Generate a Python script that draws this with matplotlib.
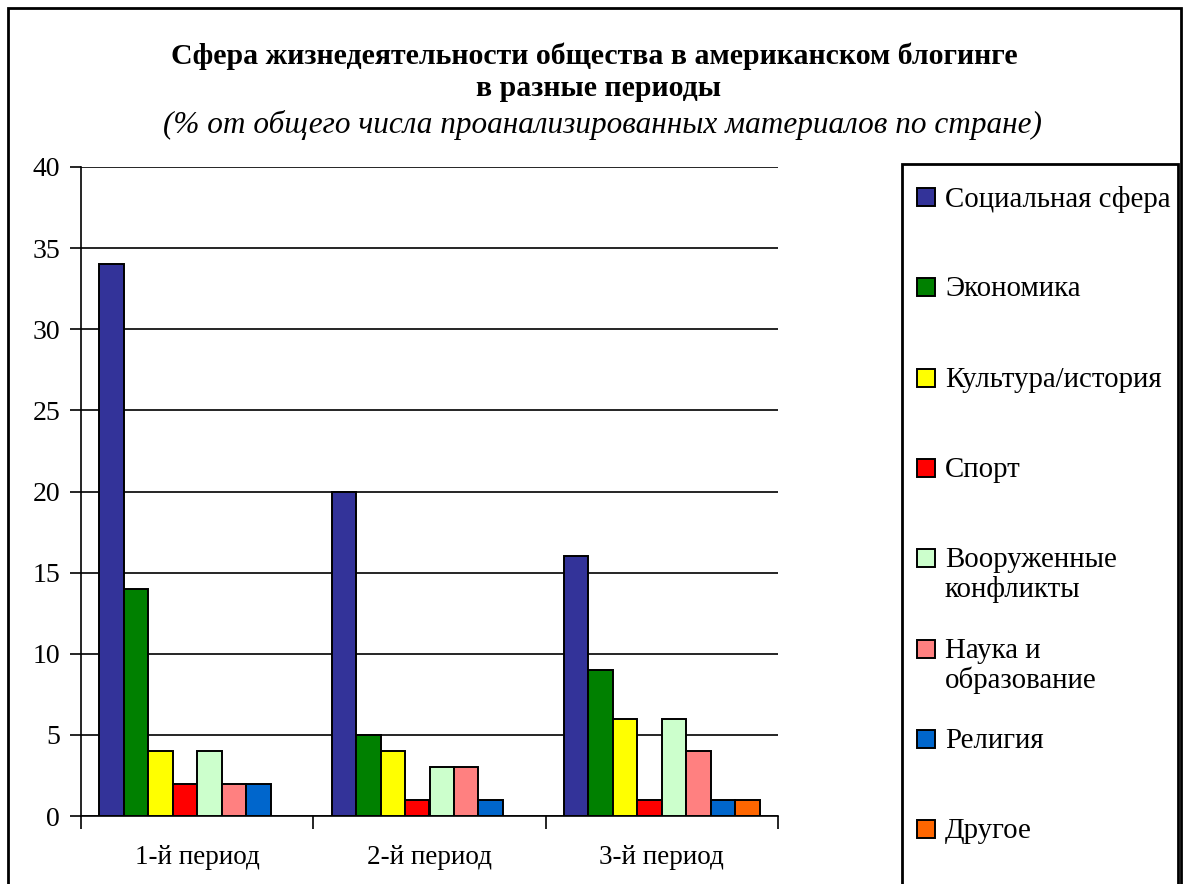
import numpy as np
import matplotlib
matplotlib.use('Agg')
import matplotlib.pyplot as plt
from matplotlib.patches import Rectangle

# data
periods = ['1-й период', '2-й период', '3-й период']
series = ['Социальная сфера', 'Экономика', 'Культура/история', 'Спорт',
          'Вооруженные\nконфликты', 'Наука и\nобразование', 'Религия', 'Другое']
values = [
    [34, 20, 16],
    [14, 5, 9],
    [4, 4, 6],
    [2, 1, 1],
    [4, 3, 6],
    [2, 3, 4],
    [2, 1, 1],
    [0, 0, 1],
]
colors = ['#333399', '#008000', '#FFFF00', '#FF0000',
          '#CCFFCC', '#FF8080', '#0066CC', '#FF6600']
yticks = [0, 5, 10, 15, 20, 25, 30, 35, 40]

plt.rcParams['font.family'] = ['Liberation Serif', 'DejaVu Serif']

W, H = 1185, 884
fig = plt.figure(figsize=(W / 100, H / 100), dpi=100)

def fx(px): return px / W
def fy(py): return 1 - py / H

# outer frame
fig.patches.append(Rectangle((fx(8), fy(900)), fx(1181) - fx(8), fy(8) - fy(900),
                             transform=fig.transFigure, fill=False, ec='black', lw=2))

ax = fig.add_axes([fx(81), fy(816), fx(778) - fx(81), fy(167) - fy(816)])
n = len(series)
w = 1 / (n + 1.5)
centers = np.arange(len(periods)) + 0.5
for i, (vals, c) in enumerate(zip(values, colors)):
    v = np.array(vals, dtype=float)
    v[v == 0] = np.nan  # Excel leaves empty slot for zero
    ax.bar(centers + (i - (n - 1) / 2) * w, v, width=w, color=c,
           edgecolor='black', linewidth=1.4, zorder=3)

ax.set_xlim(0, len(periods))
ax.set_ylim(0, 40)
ax.set_yticks(yticks)
ax.set_yticklabels([str(t) for t in yticks], fontsize=20)
ax.yaxis.grid(True, color='black', linewidth=1.2, zorder=0)
ax.set_xticks(np.arange(len(periods) + 1))
ax.set_xticklabels([])
ax.set_xticks(centers, minor=True)
ax.set_xticklabels(periods, minor=True, fontsize=19.5)
ax.tick_params(axis='x', which='minor', length=0, pad=21)
ax.tick_params(axis='x', which='major', length=9, direction='out', width=1.2)
ax.tick_params(axis='y', length=8, direction='out', width=1.2, pad=7)
for s in ['top', 'right']:
    ax.spines[s].set_visible(False)
for s in ['left', 'bottom']:
    ax.spines[s].set_linewidth(1.2)

# titles
fig.text(fx(594), fy(56), 'Сфера жизнедеятельности общества в американском блогинге',
         ha='center', va='center', fontsize=21.5, fontweight='bold')
fig.text(fx(598), fy(89), 'в разные периоды',
         ha='center', va='center', fontsize=21.5, fontweight='bold')
fig.text(fx(602), fy(125), '(% от общего числа проанализированных материалов по стране)',
         ha='center', va='center', fontsize=22.5, style='italic')

# legend
fig.patches.append(Rectangle((fx(902), fy(900)), fx(1178) - fx(902), fy(164) - fy(900),
                             transform=fig.transFigure, fill=False, ec='black', lw=2))
for i, (name, c) in enumerate(zip(series, colors)):
    yc = 197 + i * 90.3
    fig.patches.append(Rectangle((fx(917), fy(yc + 9)), fx(18), fx(18) * W / H,
                                 transform=fig.transFigure, fc=c, ec='black', lw=1.4))
    fig.text(fx(945), fy(yc - 11), name, ha='left', va='top', fontsize=20.8,
             linespacing=1.15)

fig.savefig('out.png', dpi=100)
